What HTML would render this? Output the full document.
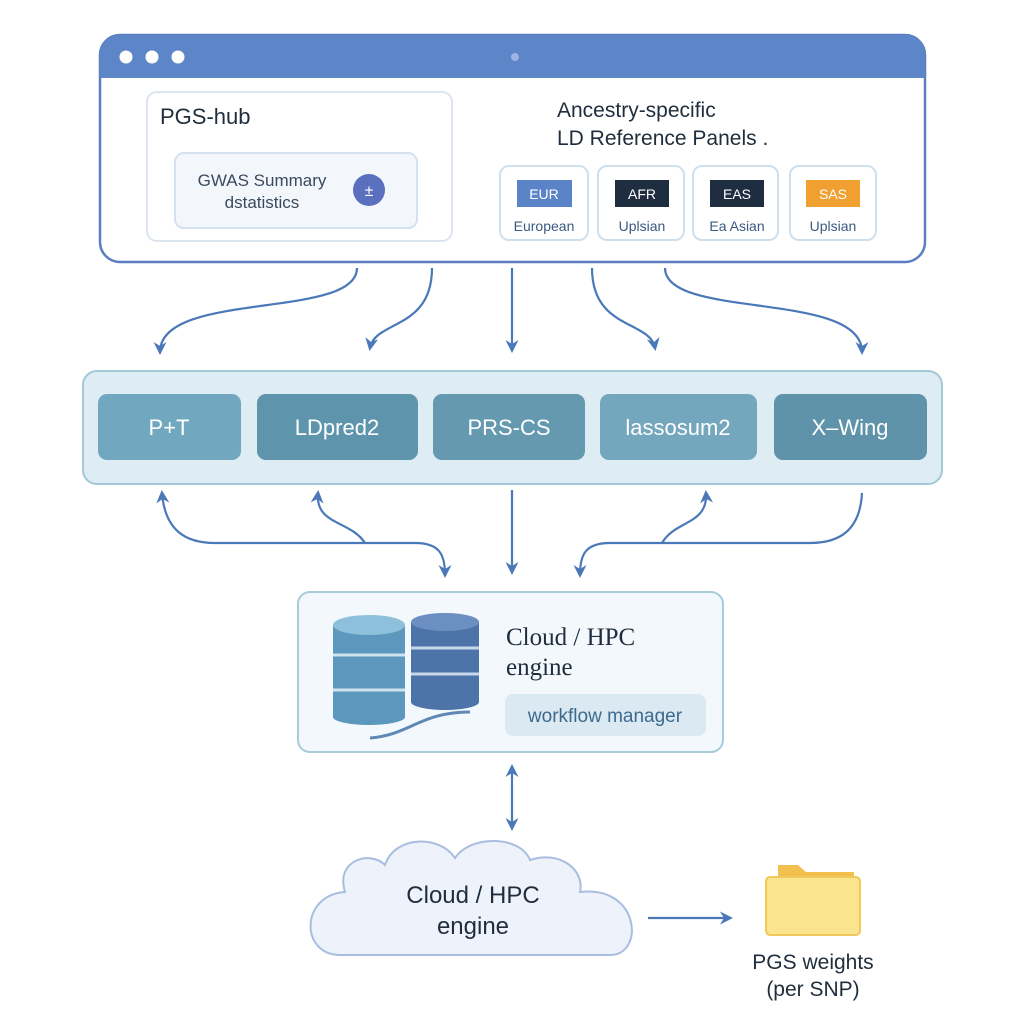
<!DOCTYPE html>
<html><head><meta charset="utf-8"><style>
html,body{margin:0;padding:0;background:#fff;}
svg{display:block;font-family:"Liberation Sans",sans-serif;}
</style></head><body>
<svg width="1024" height="1024" viewBox="0 0 1024 1024">
<defs>
<marker id="ah" markerWidth="13" markerHeight="13" refX="10" refY="6.5" orient="auto" markerUnits="userSpaceOnUse"><path d="M0,0 L13,6.5 L0,13 L4,6.5 Z" fill="#4a78b8"/></marker>
<marker id="ahs" markerWidth="13" markerHeight="13" refX="3" refY="6.5" orient="auto" markerUnits="userSpaceOnUse"><path d="M13,0 L0,6.5 L13,13 L9,6.5 Z" fill="#4a78b8"/></marker>
</defs>
<rect x="100" y="35" width="825" height="227" rx="20" fill="#fff" stroke="#5b7fc0" stroke-width="2.5"/>
<path d="M120,35 H905 A20,20 0 0 1 925,55 V78 H100 V55 A20,20 0 0 1 120,35 Z" fill="#5d86c9"/>
<circle cx="126" cy="57" r="6.5" fill="#fff"/><circle cx="152" cy="57" r="6.5" fill="#fff"/><circle cx="178" cy="57" r="6.5" fill="#fff"/>
<circle cx="515" cy="57" r="4" fill="#9db5e0"/>
<rect x="147" y="92" width="305" height="149" rx="10" fill="#fff" stroke="#dbe4ef" stroke-width="2"/>
<text x="160" y="124" font-size="22" fill="#1f2d3d">PGS-hub</text>
<rect x="175" y="153" width="242" height="75" rx="9" fill="#f3f7fc" stroke="#d6e1ee" stroke-width="2"/>
<text x="262" y="186" font-size="17" fill="#3a4a5e" text-anchor="middle">GWAS Summary</text>
<text x="262" y="208" font-size="17" fill="#3a4a5e" text-anchor="middle">dstatistics</text>
<circle cx="369" cy="190" r="16" fill="#5b6fbf"/>
<text x="369" y="196" font-size="16" fill="#fff" text-anchor="middle">±</text>
<text x="557" y="117" font-size="21" fill="#1f2d3d">Ancestry-specific</text>
<text x="557" y="145" font-size="21" fill="#1f2d3d">LD Reference Panels .</text>
<g font-size="14" text-anchor="middle">
<rect x="500" y="166" width="88" height="74" rx="9" fill="#fff" stroke="#cfe0ec" stroke-width="2"/>
<rect x="517" y="180" width="55" height="27" fill="#5b84c8"/><text x="544" y="199" fill="#fff">EUR</text>
<text x="544" y="231" fill="#3a5a80">European</text>
<rect x="598" y="166" width="86" height="74" rx="9" fill="#fff" stroke="#cfe0ec" stroke-width="2"/>
<rect x="615" y="180" width="54" height="27" fill="#1e2d40"/><text x="642" y="199" fill="#fff">AFR</text>
<text x="642" y="231" fill="#3a5a80">Uplsian</text>
<rect x="693" y="166" width="85" height="74" rx="9" fill="#fff" stroke="#cfe0ec" stroke-width="2"/>
<rect x="710" y="180" width="54" height="27" fill="#1e2d40"/><text x="737" y="199" fill="#fff">EAS</text>
<text x="737" y="231" fill="#3a5a80">Ea Asian</text>
<rect x="790" y="166" width="86" height="74" rx="9" fill="#fff" stroke="#cfe0ec" stroke-width="2"/>
<rect x="806" y="180" width="54" height="27" fill="#f0a030"/><text x="833" y="199" fill="#fff">SAS</text>
<text x="833" y="231" fill="#3a5a80">Uplsian</text>
</g>
<g fill="none" stroke="#4a78b8" stroke-width="2.2">
<path d="M357,268 C357,320 160,290 160,352" marker-end="url(#ah)"/>
<path d="M432,268 C432,330 375,320 370,348" marker-end="url(#ah)"/>
<path d="M512,268 V350" marker-end="url(#ah)"/>
<path d="M592,268 C592,330 650,320 655,348" marker-end="url(#ah)"/>
<path d="M665,268 C665,320 862,290 862,352" marker-end="url(#ah)"/>
</g>
<rect x="83" y="371" width="859" height="113" rx="14" fill="#deedf3" stroke="#a3c8d8" stroke-width="2"/>
<g font-size="22" fill="#fff" text-anchor="middle">
<rect x="98" y="394" width="143" height="66" rx="9" fill="#72a8bf"/><text x="169" y="435">P+T</text>
<rect x="257" y="394" width="161" height="66" rx="9" fill="#5e95ad"/><text x="337" y="435">LDpred2</text>
<rect x="433" y="394" width="152" height="66" rx="9" fill="#6599b0"/><text x="509" y="435">PRS-CS</text>
<rect x="600" y="394" width="157" height="66" rx="9" fill="#74a7bd"/><text x="678" y="435">lassosum2</text>
<rect x="774" y="394" width="153" height="66" rx="9" fill="#5f93aa"/><text x="850" y="435">X–Wing</text>
</g>
<g fill="none" stroke="#4a78b8" stroke-width="2.2">
<path d="M162,493 C165,530 185,543 215,543 H415 C440,543 445,555 445,575" marker-start="url(#ahs)" marker-end="url(#ah)"/>
<path d="M318,493 C315,525 350,520 365,543" marker-start="url(#ahs)"/>
<path d="M512,490 V572" marker-end="url(#ah)"/>
<path d="M862,493 C860,530 840,543 810,543 H610 C585,543 580,555 580,575" marker-end="url(#ah)"/>
<path d="M706,493 C708,525 675,520 662,543" marker-start="url(#ahs)"/>
</g>
<rect x="298" y="592" width="425" height="160" rx="12" fill="#f2f8fc" stroke="#a9cbdc" stroke-width="2"/>
<g>
<rect x="333" y="625" width="72" height="92" fill="#5c97bd"/>
<ellipse cx="369" cy="717" rx="36" ry="8" fill="#5c97bd"/>
<ellipse cx="369" cy="625" rx="36" ry="10" fill="#8ec0dc"/>
<line x1="333" y1="655" x2="405" y2="655" stroke="#cfe3ef" stroke-width="3"/>
<line x1="333" y1="690" x2="405" y2="690" stroke="#cfe3ef" stroke-width="3"/>
<rect x="411" y="622" width="68" height="80" fill="#4c74a8"/>
<ellipse cx="445" cy="702" rx="34" ry="8" fill="#4c74a8"/>
<ellipse cx="445" cy="622" rx="34" ry="9" fill="#6b8fc0"/>
<line x1="411" y1="648" x2="479" y2="648" stroke="#c9d7ea" stroke-width="3"/>
<line x1="411" y1="674" x2="479" y2="674" stroke="#c9d7ea" stroke-width="3"/>
<path d="M370,738 C410,735 420,712 470,712" stroke="#5f88b5" stroke-width="3" fill="none"/>
</g>
<text x="506" y="645" font-size="25" fill="#1f2d3d" font-family="Liberation Serif,serif">Cloud / HPC</text>
<text x="506" y="675" font-size="25" fill="#1f2d3d" font-family="Liberation Serif,serif">engine</text>
<rect x="505" y="694" width="201" height="42" rx="8" fill="#dbe9f3"/>
<text x="605" y="722" font-size="19" fill="#3d6a8c" text-anchor="middle">workflow manager</text>
<path d="M512,767 V828" stroke="#4a78b8" stroke-width="2.2" fill="none" marker-start="url(#ahs)" marker-end="url(#ah)"/>
<path d="M340,955 C300,955 300,895 345,892 C335,860 370,850 385,865 C395,835 440,835 455,858 C470,835 520,835 530,860 C560,850 585,870 580,892 C640,885 645,955 610,955 Z" fill="#eef3fb" stroke="#a9bde0" stroke-width="2"/>
<text x="473" y="903" font-size="24" fill="#1f2d3d" text-anchor="middle">Cloud / HPC</text>
<text x="473" y="934" font-size="24" fill="#1f2d3d" text-anchor="middle">engine</text>
<path d="M648,918 H730" stroke="#4a78b8" stroke-width="2.2" fill="none" marker-end="url(#ah)"/>
<path d="M778,865 H798 L806,872 H854 V890 H778 Z" fill="#f2c04f"/>
<rect x="766" y="877" width="94" height="58" rx="4" fill="#fbe48e" stroke="#f0c85c" stroke-width="2"/>
<text x="813" y="969" font-size="21" fill="#1f2d3d" text-anchor="middle">PGS weights</text>
<text x="813" y="996" font-size="21" fill="#1f2d3d" text-anchor="middle">(per SNP)</text>
</svg>
</body></html>
